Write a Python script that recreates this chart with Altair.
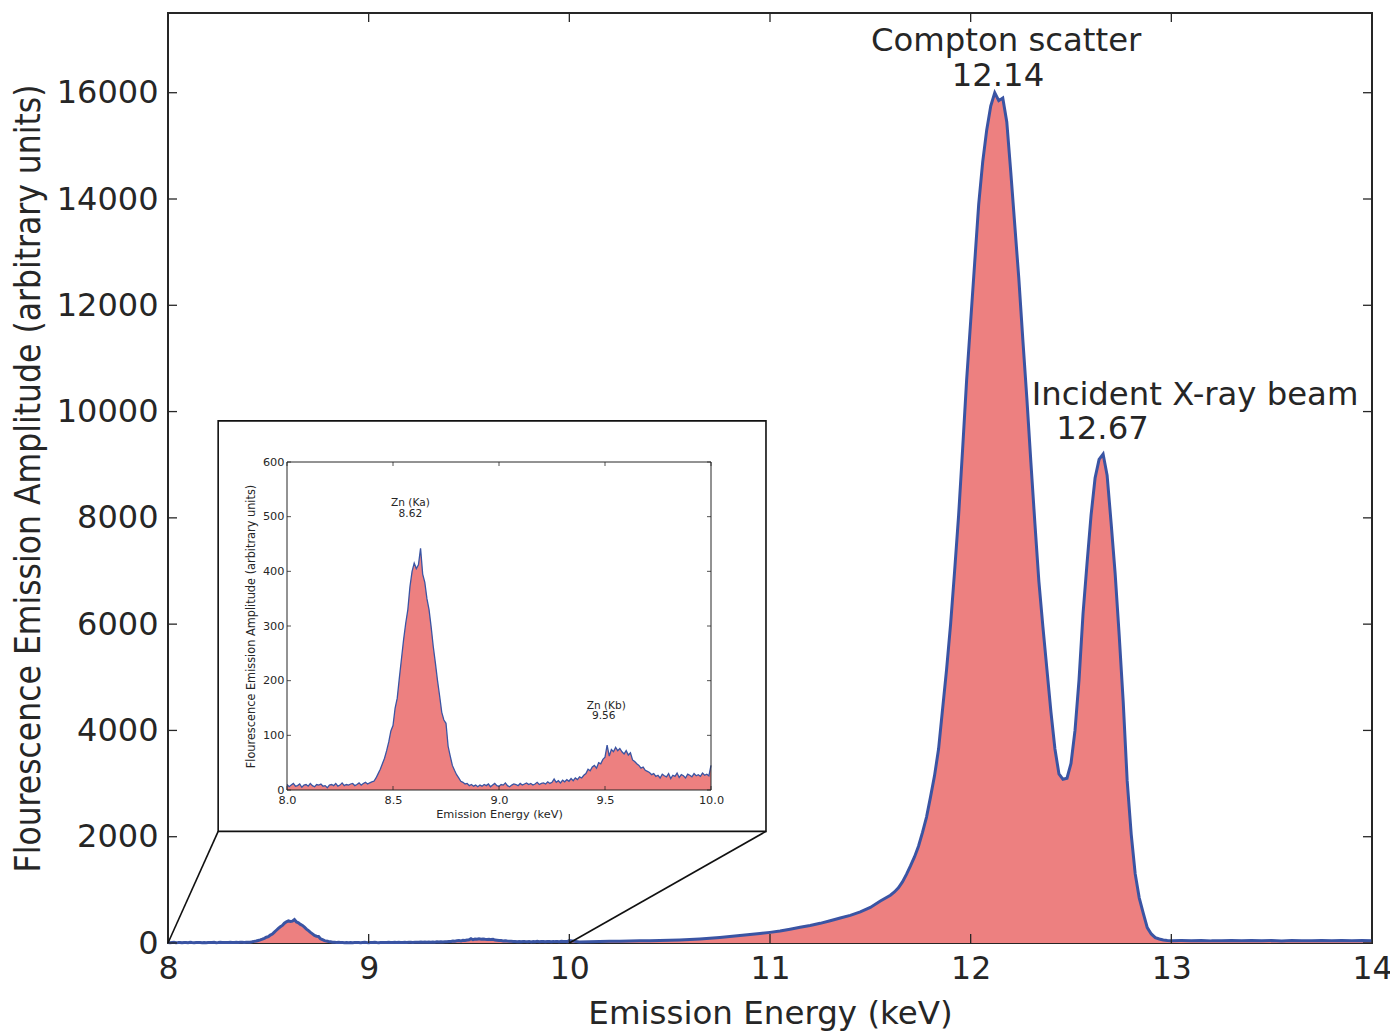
import altair as alt
import numpy as np
import pandas as pd

# ---------------- data ----------------
# 8.00 .. 10.00 keV, every 0.01 keV (used by the inset and by the main plot)
low_energy = np.round(np.linspace(8.0, 10.0, 201), 2)
low_counts = [
    10, 6, 9, 12, 7, 8, 11, 5, 9, 10, 7, 12, 8, 6, 10, 9, 11, 7, 8, 4,
    9, 10, 8, 12, 7, 9, 13, 8, 10, 9, 11, 12, 8, 10, 13, 9, 12, 14, 11, 13,
    15,
    16, 22, 30, 38, 48, 58, 72, 88, 108, 118, 150, 168, 205, 240, 275, 305, 330, 372, 400, 415,
    405, 412, 442, 395, 380, 350, 330, 298, 262, 232, 200, 172, 142, 128, 122, 80, 62, 45, 36, 28,
    22, 16, 14, 11, 12, 8, 10, 7, 9, 6,
    9, 7, 10, 8, 11, 6, 9, 12, 8, 7, 10, 9, 13, 8, 6, 9, 11, 10, 8, 12,
    9, 11, 13, 10, 12, 9, 11, 14, 10, 12, 13, 11, 15, 12, 14,
    20, 14, 17, 13, 18, 15, 19, 16, 21, 17, 22, 19, 24, 22, 27,
    30, 38, 35, 42, 45, 40, 50, 48, 56, 60, 82, 62, 74, 70, 78, 72, 76, 70, 66, 72,
    64, 68, 55, 52, 48, 45, 40, 42, 36, 34,
    32, 28, 30, 25, 27, 22, 29, 26, 24, 30, 21, 27, 25, 31, 23, 28, 26, 22, 29, 27,
    24, 30, 26, 28, 25, 31, 27, 29, 26, 45,
]

# 10.05 .. 11.60 keV every 0.05
mid_energy = np.round(np.arange(10.05, 11.601, 0.05), 2)
mid_counts = [
    20, 25, 28, 32, 35, 38, 40, 44, 46, 52, 58, 66, 75, 88, 105, 122,
    140, 158, 178, 200, 225, 260, 295, 330, 370, 420, 470, 520, 585, 670, 790, 900,
]

# 11.62 .. 13.00 keV every 0.02
peak_energy = np.round(np.arange(11.62, 13.001, 0.02), 2)
peak_counts = [
    960, 1040, 1150, 1290, 1450, 1620, 1820, 2080, 2370, 2750,
    3150, 3650, 4400, 5150, 6000, 7000, 8050, 9300, 10600, 11700,
    12800, 13900, 14700, 15300, 15750, 16000, 15850, 15900, 15450, 14500,
    13500, 12500, 11350, 10250, 9050, 7900, 6800, 5950, 5150, 4350,
    3650, 3180, 3080, 3100, 3380, 4000, 4950, 6200, 7150, 8050,
    8750, 9100, 9200, 8800, 7900, 6950, 5800, 4550, 3050, 2050,
    1300, 850, 560, 290, 170, 100, 75, 58, 48, 44,
]

# 13.05 .. 14.00 keV every 0.05
tail_energy = np.round(np.arange(13.05, 14.001, 0.05), 2)
tail_counts = [45, 42, 48, 40, 44, 46, 41, 47, 43, 45, 39, 46, 44, 42, 48, 43, 45, 41, 47, 44]

main_ticks_x = [8, 9, 10, 11, 12, 13, 14]
main_ticks_y = [0, 2000, 4000, 6000, 8000, 10000, 12000, 14000, 16000]
inset_ticks_x = [8.0, 8.5, 9.0, 9.5, 10.0]
inset_ticks_y = [0, 100, 200, 300, 400, 500, 600]

ann_text = ["Compton scatter", "12.14", "Incident X-ray beam", "12.67"]
ann_energy = [12.177, 12.136, 13.118, 12.657]
ann_amp = [16790, 16130, 10120, 9480]

inset_ann_text = ["Zn (Ka)", "8.62", "Zn (Kb)", "9.56"]
inset_ann_energy = [8.582, 8.582, 9.506, 9.494]
inset_ann_amp = [519, 500, 149, 129]

# inset box corners in main-plot data units, and zoomed range
box_energy = [8.25, 10.98]
box_amp = [2100, 9825]
zoom_energy = [8.0, 10.0]

# ---------------- layout / style ----------------
W, H = 1204, 930
FILL = "#ED8080"
LINE = "#3A54A3"
INK = "#262626"
FONT = "DejaVu Sans"
COND = "DejaVu Sans Condensed"

# inset plot area in pixels of the main plot
IX0, IX1 = 119, 543
IY0, IY1 = 777, 449

df_all = pd.DataFrame({
    "E": np.concatenate([low_energy, mid_energy, peak_energy, tail_energy]),
    "I": np.concatenate([low_counts, mid_counts, peak_counts, tail_counts]),
})
df_low = pd.DataFrame({"E": low_energy, "I": low_counts})

mx = alt.Scale(domain=[8, 14], nice=False, zero=False)
my = alt.Scale(domain=[0, 17500], nice=False)
ix = alt.Scale(domain=[8, 10], range=[IX0, IX1], nice=False, zero=False)
iy = alt.Scale(domain=[0, 600], range=[IY0, IY1], nice=False)

main_x_axis = alt.Axis(
    values=main_ticks_x, format="d", ticks=False, domain=False, grid=False,
    labelFlush=False, labelOverlap=False,
    labelFont=FONT, labelFontSize=31.5, labelColor=INK, labelPadding=10,
    title="Emission Energy (keV)", titleFont=FONT, titleFontSize=32.5,
    titleFontWeight="normal", titleColor=INK, titlePadding=13,
)
main_y_axis = alt.Axis(
    values=main_ticks_y, format="d", ticks=False, domain=False, grid=False,
    labelFlush=False, labelOverlap=False,
    labelFont=FONT, labelFontSize=32, labelColor=INK, labelPadding=10,
    title="Flourescence Emission Amplitude (arbitrary units)", titleFont=COND,
    titleFontSize=35, titleFontWeight="normal", titleColor=INK, titlePadding=10,
)

area = alt.Chart(df_all).mark_area(color=FILL, opacity=1).encode(
    x=alt.X("E:Q", scale=mx, axis=main_x_axis),
    y=alt.Y("I:Q", scale=my, axis=main_y_axis),
)
line = alt.Chart(df_all).mark_line(color=LINE, strokeWidth=3).encode(
    x=alt.X("E:Q"), y=alt.Y("I:Q"),
)

dtx = pd.DataFrame({"t": main_ticks_x})
dty = pd.DataFrame({"t": main_ticks_y})
tick_style = dict(color=INK, strokeWidth=1.3)
tb = alt.Chart(dtx).mark_rule(**tick_style).encode(x="t:Q", y=alt.value(H), y2=alt.value(H - 9))
tt = alt.Chart(dtx).mark_rule(**tick_style).encode(x="t:Q", y=alt.value(0), y2=alt.value(9))
tl = alt.Chart(dty).mark_rule(**tick_style).encode(y="t:Q", x=alt.value(0), x2=alt.value(9))
tr = alt.Chart(dty).mark_rule(**tick_style).encode(y="t:Q", x=alt.value(W), x2=alt.value(W - 9))

ann = alt.Chart(pd.DataFrame({"txt": ann_text, "E": ann_energy, "I": ann_amp})).mark_text(
    font=FONT, fontSize=32.3, color=INK, align="center", baseline="alphabetic"
).encode(x="E:Q", y="I:Q", text="txt:N")

conn = alt.Chart(pd.DataFrame({
    "E": zoom_energy, "I": [0, 0], "E2": box_energy, "I2": [box_amp[0], box_amp[0]],
})).mark_rule(color="#111111", strokeWidth=1.6).encode(
    x="E:Q", y="I:Q", x2="E2:Q", y2="I2:Q"
)

box = alt.Chart(pd.DataFrame({"a": [0]})).mark_rect(
    fill="white", stroke="#111111", strokeWidth=1.6
).encode(
    x=alt.datum(box_energy[0]), x2=alt.datum(box_energy[1]),
    y=alt.datum(box_amp[0]), y2=alt.datum(box_amp[1]),
)

main = alt.layer(area, line, tb, tt, tl, tr, conn, box, ann)

# ---------------- inset ----------------
inset_x_axis = alt.Axis(
    orient="bottom", offset=-(H - IY0), values=inset_ticks_x, format=".1f",
    ticks=False, domain=False, grid=False, zindex=2,
    labelFlush=False, labelOverlap=False,
    labelFont=FONT, labelFontSize=11.3, labelColor=INK, labelPadding=4,
    title="Emission Energy (keV)", titleFont=FONT, titleFontSize=11.3,
    titleFontWeight="normal", titleColor=INK, titlePadding=3,
)
inset_y_axis = alt.Axis(
    orient="left", offset=-IX0, values=inset_ticks_y, format="d",
    ticks=False, domain=False, grid=False, zindex=2,
    labelFlush=False, labelOverlap=False,
    labelFont=FONT, labelFontSize=11.3, labelColor=INK, labelPadding=3,
    title="Flourescence Emission Amplitude (arbitrary units)", titleFont=COND,
    titleFontSize=12.6, titleFontWeight="normal", titleColor=INK, titlePadding=5,
)

i_area = alt.Chart(df_low).mark_area(color=FILL, opacity=1).encode(
    x=alt.X("E:Q", scale=ix, axis=inset_x_axis),
    y=alt.Y("I:Q", scale=iy, axis=inset_y_axis),
)
i_line = alt.Chart(df_low).mark_line(color=LINE, strokeWidth=1.3).encode(
    x="E:Q", y="I:Q"
)
i_frame = alt.Chart(pd.DataFrame({"a": [0]})).mark_rect(
    fill=None, fillOpacity=0, stroke=INK, strokeWidth=1
).encode(
    x=alt.datum(zoom_energy[0]), x2=alt.datum(zoom_energy[1]),
    y=alt.datum(inset_ticks_y[0]), y2=alt.datum(inset_ticks_y[-1]),
)
ditx = pd.DataFrame({"t": inset_ticks_x})
dity = pd.DataFrame({"t": inset_ticks_y})
its = dict(color=INK, strokeWidth=0.8)
itb = alt.Chart(ditx).mark_rule(**its).encode(x="t:Q", y=alt.value(IY0), y2=alt.value(IY0 - 4))
itt = alt.Chart(ditx).mark_rule(**its).encode(x="t:Q", y=alt.value(IY1), y2=alt.value(IY1 + 4))
itl = alt.Chart(dity).mark_rule(**its).encode(y="t:Q", x=alt.value(IX0), x2=alt.value(IX0 + 4))
itr = alt.Chart(dity).mark_rule(**its).encode(y="t:Q", x=alt.value(IX1), x2=alt.value(IX1 - 4))
i_ann = alt.Chart(pd.DataFrame({"txt": inset_ann_text, "E": inset_ann_energy, "I": inset_ann_amp})).mark_text(
    font=FONT, fontSize=10.6, color=INK, align="center", baseline="alphabetic"
).encode(x="E:Q", y="I:Q", text="txt:N")

inset = alt.layer(i_area, i_line, i_frame, itb, itt, itl, itr, i_ann)

chart = alt.layer(main, inset).resolve_scale(
    x="independent", y="independent"
).properties(
    width=W, height=H,
    autosize=alt.AutoSizeParams(type="none"),
    padding={"left": 160, "top": 5, "right": 18, "bottom": 88},
    background="white",
).configure_view(stroke=INK, strokeWidth=2)

chart.save("out.html", embed_options={"renderer": "svg", "actions": False})
